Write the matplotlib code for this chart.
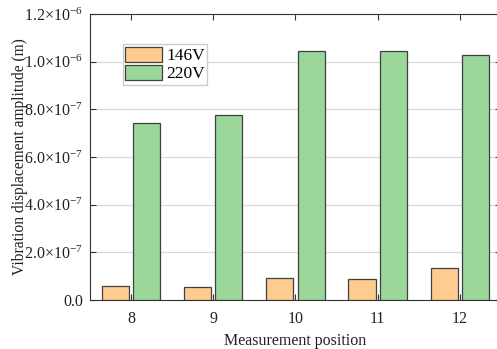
import numpy as np
import matplotlib
matplotlib.use('Agg')
import matplotlib.pyplot as plt
from matplotlib.ticker import FuncFormatter

plt.rcParams['font.family'] = 'Liberation Serif'
plt.rcParams['mathtext.fontset'] = 'custom'
plt.rcParams['mathtext.rm'] = 'Liberation Serif'
plt.rcParams['mathtext.it'] = 'Liberation Serif:italic'

positions = [8, 9, 10, 11, 12]
v146 = [0.059e-6, 0.055e-6, 0.092e-6, 0.088e-6, 0.134e-6]
v220 = [0.743e-6, 0.776e-6, 1.045e-6, 1.045e-6, 1.028e-6]
series_names = ['146V', '220V']

fig = plt.figure(figsize=(4.97, 3.49), dpi=100)
ax = fig.add_axes([0.181, 0.140, 0.827, 0.820])

x = np.array(positions)
w = 0.33
ax.bar(x - 0.19, v146, w, color='#FFCC8F', edgecolor='#404040', linewidth=0.9,
       label=series_names[0], zorder=3)
ax.bar(x + 0.19, v220, w, color='#9BD69B', edgecolor='#404040', linewidth=0.9,
       label=series_names[1], zorder=3)

ax.set_xlim(7.5, 12.5)
ax.set_ylim(0, 1.2e-6)
ax.set_xticks(positions)
ax.set_yticks(np.arange(0, 1.21e-6, 0.2e-6))

def fmt(v, pos):
    if abs(v) < 1e-12:
        return '0.0'
    e = int(np.floor(np.log10(abs(v)) + 1e-9))
    m = v / 10**e
    return r'%.1f$\times$10$^{%d}$' % (m, e)

ax.yaxis.set_major_formatter(FuncFormatter(fmt))
ax.grid(axis='y', color='#d9d9d9', linewidth=0.9, zorder=0)
ax.tick_params(direction='in', top=True, right=True, labelsize=11.5, length=4,
               colors='#333333', labelcolor='#222222')
ax.tick_params(axis='x', pad=8)
ax.tick_params(axis='y', pad=5)
for s in ax.spines.values():
    s.set_color('#333333')

ax.set_xlabel('Measurement position', fontsize=11.5, labelpad=4, color='#222222')
ax.set_ylabel('Vibration displacement amplitude (m)', fontsize=11.2,
              color='#222222')
ax.yaxis.set_label_coords(-0.151, 0.5)

ax.legend(loc='upper left', bbox_to_anchor=(0.08, 0.895), fontsize=12.5,
          frameon=True, fancybox=False, edgecolor='#cccccc', framealpha=1,
          handlelength=2.1, handleheight=0.95, borderpad=0.15, labelspacing=0.05,
          handletextpad=0.25, borderaxespad=0)

fig.savefig('out.png', dpi=100)
